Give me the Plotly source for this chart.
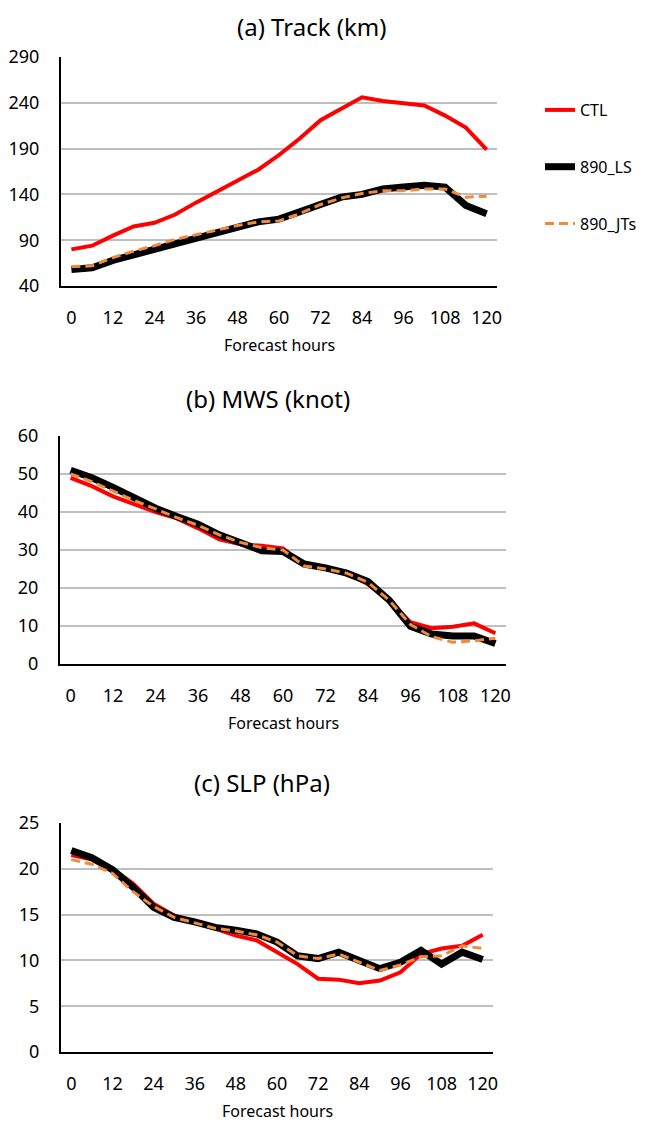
import plotly.graph_objects as go

hours = [0, 6, 12, 18, 24, 30, 36, 42, 48, 54, 60, 66, 72, 78, 84, 90, 96, 102, 108, 114, 120]
tick_hours = [0, 12, 24, 36, 48, 60, 72, 84, 96, 108, 120]

# (a) Track (km)
track_ctl = [80, 84, 95, 105, 109, 118, 131, 143, 154, 167, 183, 201, 221, 234, 246, 242, 240, 237, 226, 213, 189]
track_ls = [58, 60, 68, 74, 80, 86, 92, 99, 104, 110, 113, 121, 128, 137, 140, 146, 148, 150, 148, 128, 119]
track_jts = [61, 62, 71, 78, 84, 91, 96, 101, 106, 110, 111, 119, 129, 136, 141, 144, 144, 146, 146, 137, 138]

# (b) MWS (knot)
mws_ctl = [49, 46.8, 44.1, 42, 40, 38.3, 35.7, 32.8, 31.5, 31.1, 30.4, 26, 25, 24, 21, 16.5, 11, 9.4, 9.8, 10.7, 8.1]
mws_ls = [51, 49, 46.5, 43.5, 41, 38.8, 36.8, 34, 32, 29.8, 29.6, 26.3, 25.3, 23.9, 21.7, 16.8, 9.9, 7.9, 7.4, 7.4, 5.4]
mws_jts = [50, 48, 45.5, 43, 40.8, 38.5, 36.5, 34, 32, 30.6, 30, 25.8, 25, 23.9, 21.5, 16.8, 10.4, 7.2, 5.7, 6.1, 6.8]

# (c) SLP (hPa)
slp_ctl = [21.5, 21, 20, 18.4, 16.2, 14.9, 14.2, 13.5, 12.7, 12.2, 10.9, 9.6, 8, 7.9, 7.5, 7.8, 8.7, 10.7, 11.3, 11.6, 12.8]
slp_ls = [22, 21.2, 19.9, 18, 15.8, 14.7, 14.2, 13.6, 13.3, 12.9, 12, 10.5, 10.2, 10.9, 10, 9.1, 9.8, 11.1, 9.6, 10.9, 10.1]
slp_jts = [21, 20.5, 19.5, 17.5, 15.9, 14.7, 14.1, 13.5, 13.2, 12.8, 12, 10.5, 10.2, 10.7, 9.8, 8.9, 9.5, 10.4, 10.5, 11.6, 11.3]

series_names = ["CTL", "890_LS", "890_JTs"]
RED = "#FF0000"
BLACK = "#000000"
ORANGE = "#F08A3C"
GRID = "#BFBFBF"
FONT = "Noto Sans"

W, H = 646, 1122
OFF = 8  # page body margin


def fx(px):
    return (px - OFF) / W


def fy(py):
    return 1 - (py - OFF) / H


panels = [
    dict(data=[track_ctl, track_ls, track_jts], yrange=[40, 290], dtick=50,
         xpx=(61, 497), ypx=(57, 286), title="(a) Track (km)", tx=311, ty=8, tanchor="top", legend=True),
    dict(data=[mws_ctl, mws_ls, mws_jts], yrange=[0, 60], dtick=10,
         xpx=(60, 506), ypx=(436, 664), title="(b) MWS (knot)", tx=268, ty=398, tanchor="middle", legend=False),
    dict(data=[slp_ctl, slp_ls, slp_jts], yrange=[0, 25], dtick=5,
         xpx=(61, 493), ypx=(823, 1052), title="(c) SLP (hPa)", tx=262, ty=783, tanchor="middle", legend=False),
]

styles = [
    dict(color=RED, width=4, dash="solid"),
    dict(color=BLACK, width=7, dash="solid"),
    dict(color=ORANGE, width=3, dash="9px,5px"),
]

fig = go.Figure()
annotations = []
layout = {}
for k, p in enumerate(panels, start=1):
    sfx = "" if k == 1 else str(k)
    for j, (vals, st) in enumerate(zip(p["data"], styles)):
        fig.add_trace(go.Scatter(
            x=hours, y=vals, mode="lines", name=series_names[j],
            line=dict(color=st["color"], width=st["width"], dash=st["dash"]),
            xaxis="x" + sfx, yaxis="y" + sfx,
            showlegend=p["legend"], legendgroup=series_names[j],
        ))
    x0, x1 = p["xpx"]
    y0, y1 = p["ypx"]
    layout["xaxis" + sfx] = dict(
        domain=[fx(x0), fx(x1)], anchor="y" + sfx, range=[-3, 123],
        tickvals=tick_hours, ticktext=[str(t) for t in tick_hours],
        showgrid=False, zeroline=False, showline=True, linecolor=BLACK, linewidth=2,
        ticks="", ticklabelstandoff=14, automargin=False,
        tickfont=dict(family=FONT, size=18, color="#000"),
    )
    layout["yaxis" + sfx] = dict(
        domain=[fy(y1), fy(y0)], anchor="x" + sfx, range=p["yrange"],
        tick0=p["yrange"][0], dtick=p["dtick"],
        showgrid=True, gridcolor=GRID, gridwidth=1.5, zeroline=False,
        showline=True, linecolor=BLACK, linewidth=2,
        ticks="", ticklabelstandoff=16, automargin=False,
        tickfont=dict(family=FONT, size=18, color="#000"),
    )
    annotations.append(dict(
        text=p["title"], x=fx(p["tx"]), y=fy(p["ty"]), xref="paper", yref="paper",
        xanchor="center", yanchor=p["tanchor"], showarrow=False,
        font=dict(family=FONT, size=24, color="#000"),
    ))
    annotations.append(dict(
        text="Forecast hours", x=fx((x0 + x1) / 2), y=fy(y1 + 59),
        xref="paper", yref="paper", xanchor="center", yanchor="middle", showarrow=False,
        font=dict(family=FONT, size=16, color="#000"),
    ))

fig.update_layout(
    width=W, height=H, margin=dict(l=0, r=0, t=0, b=0, autoexpand=False),
    paper_bgcolor="white", plot_bgcolor="white",
    annotations=annotations,
    legend=dict(x=fx(540), y=fy(93), xanchor="left", yanchor="top",
                font=dict(family=FONT, size=16, color="#000"),
                tracegroupgap=33, bgcolor="rgba(0,0,0,0)", itemwidth=30),
    **layout,
)

fig.write_html("out.html")
